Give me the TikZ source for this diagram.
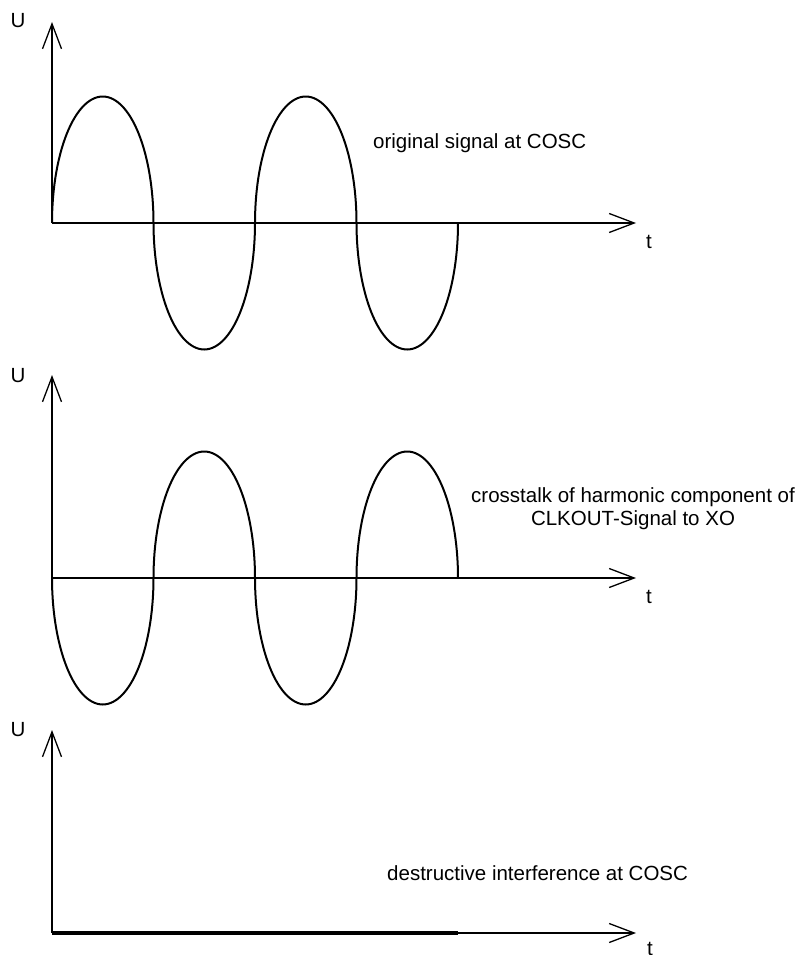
\documentclass[tikz,border=0pt]{standalone}
\usepackage{fontspec}
\setmainfont{Liberation Sans}
\usetikzlibrary{arrows.meta}
\tikzset{
  axisline/.style={line width=1.3pt, -{Straight Barb[length=25pt,width=19pt,line width=1.3pt]}},
  wave/.style={line width=2pt, line join=round},
  flat/.style={line width=3.6pt},
  lbl/.style={inner sep=0pt, anchor=base, font=\fontsize{20.5}{23}\selectfont},
  caption/.style={inner sep=0pt, anchor=base west, font=\fontsize{20.5}{23}\selectfont},
}
\begin{document}
\begin{tikzpicture}[x=1pt,y=-1pt]
\useasboundingbox (0,0) rectangle (808,955);
% ---------- plot 1 ----------
\coordinate (o1) at (52,223);
\coordinate (y1) at (52,22);
\coordinate (x1) at (636,223);
\draw[axisline] (o1) -- (y1);
\draw[axisline] (o1) -- (x1);
\draw[wave] (o1) \foreach \k in {0,1,2,3} { -- plot[domain=180:0, samples=61, variable=\a] ({52+101.5*\k+50.75+50.75*cos(\a)}, {223-cos(180*\k)*126.5*sin(\a)}) };
\node[lbl] (u1) at (18,28) {U};
\node[lbl] (t1) at (649,248) {t};
\node[caption] (c1) at (373,148) {original signal at COSC};
% ---------- plot 2 ----------
\coordinate (o2) at (52,578);
\coordinate (y2) at (52,375);
\coordinate (x2) at (636,578);
\draw[axisline] (o2) -- (y2);
\draw[axisline] (o2) -- (x2);
\draw[wave] (o2) \foreach \k in {0,1,2,3} { -- plot[domain=180:0, samples=61, variable=\a] ({52+101.5*\k+50.75+50.75*cos(\a)}, {578+cos(180*\k)*126.5*sin(\a)}) };
\node[lbl] (u2) at (18,382) {U};
\node[lbl] (t2) at (649,603) {t};
\node[lbl] (c2a) at (633,502) {crosstalk of harmonic component of};
\node[lbl] (c2b) at (633,525) {CLKOUT-Signal to XO};
% ---------- plot 3 ----------
\coordinate (o3) at (52,933);
\coordinate (y3) at (52,730);
\coordinate (x3) at (636,933);
\coordinate (e3) at (458,933);
\draw[axisline] (o3) -- (y3);
\draw[axisline] (o3) -- (x3);
\draw[flat] (o3) -- (e3);
\node[lbl] (u3) at (18,736) {U};
\node[lbl] (t3) at (650,955) {t};
\node[caption] (c3) at (387,880) {destructive interference at COSC};
\end{tikzpicture}
\end{document}
